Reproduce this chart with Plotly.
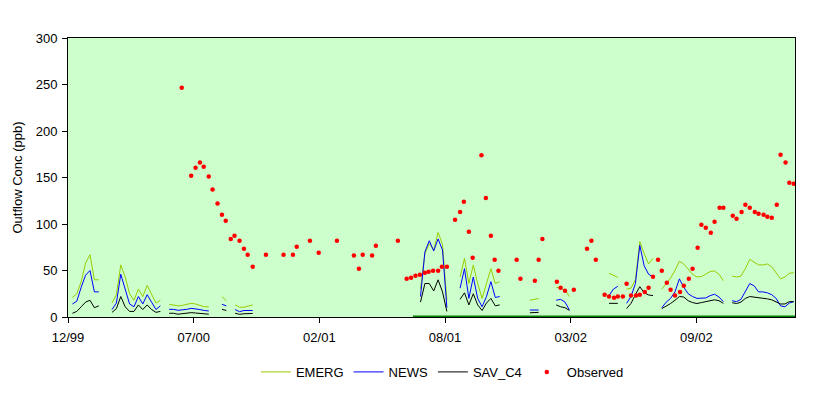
import pandas as pd
import plotly.graph_objects as go

# ---------------- data ----------------
start_date = "1999-12-30"
axis_end_day = 1157
tick_days = [0, 200, 400, 600, 800, 1000]

# model output days (days since start_date), one list per continuous segment
model_days = [
    [7, 14, 21, 28, 35, 42, 49],
    [70, 77, 84, 91, 98, 105, 112, 119, 126, 133, 140, 147],
    [161, 168, 175, 182, 189, 196, 203, 210, 217, 224],
    [245, 252],
    [266, 273, 280, 287, 294],
    [561, 568, 575, 582, 589, 596, 603],
    [624, 631, 638, 645, 652, 659, 666, 673, 680, 687],
    [735, 742, 749],
    [777, 784, 791, 798],
    [861, 868, 875],
    [889, 896, 903, 910, 917, 924, 931],
    [945, 952, 959, 966, 973, 980, 987, 994, 1001, 1008, 1015, 1022, 1029, 1036, 1043],
    [1057, 1064, 1071, 1078, 1085, 1092, 1099, 1106, 1113, 1120, 1127, 1134, 1141, 1148, 1155],
]
emerg = [
    [21, 25, 38, 58, 67, 40, 40],
    [15, 24, 56, 43, 25, 18, 30, 22, 34, 24, 15, 18],
    [13.6, 13, 12, 12.5, 13.5, 14.7, 14, 12.5, 11, 11],
    [22, 17.5],
    [13, 10.5, 10.5, 11.5, 13],
    [30, 68, 79, 72, 91, 78, 18],
    [43, 63, 36, 56, 36, 20, 36, 52, 36, 38],
    [18, 19, 20],
    [32, 31, 29, 22],
    [47, 45, 42.7],
    [30, 31, 40, 81, 68, 57, 63],
    [30, 36, 42, 50, 60, 57, 51, 46, 43, 43.5, 46, 49, 49.5, 46, 39],
    [44, 43, 44, 52, 62, 59, 56, 56, 57, 54, 48, 41, 43, 47, 47.6],
]
news = [
    [14, 17, 32, 45, 50, 27, 27],
    [8, 15, 46, 31, 14, 11, 22, 14, 24, 16, 8, 12],
    [8.2, 8.2, 7.2, 7.5, 8.2, 9.3, 9, 8, 7, 6.5],
    [13.6, 12],
    [8, 5.7, 7, 7, 7],
    [22, 70, 82, 71, 84, 72, 10],
    [31, 52, 20, 43, 20, 11, 22, 38, 21, 22],
    [7.5, 7.5, 7.5],
    [18, 19, 16, 7.5],
    [23, 30, 33],
    [14.7, 22, 36, 77, 55, 46, 43],
    [10, 16, 20, 27, 41, 32, 25, 22, 20, 20, 20.5, 23, 24.5, 21.5, 16.5],
    [17.5, 16.5, 19, 28, 36, 33.5, 27, 27, 26, 24, 20, 12, 11, 15, 16.5],
]
sav_c4 = [
    [4, 6, 11, 16, 18, 10, 12],
    [5, 9, 22, 11, 6, 6, 13, 8, 13, 8, 5, 6],
    [4, 4, 3, 3.5, 4, 4.7, 4.3, 3.8, 3, 3],
    [8.2, 7],
    [4, 2.9, 3.5, 3.8, 3.8],
    [16, 36, 36, 28, 40, 27, 6],
    [19, 26, 13, 25, 13, 7, 15, 20, 12, 13],
    [4.5, 5, 5],
    [13, 11, 10, 7],
    [14.7, 14.7, 14.7],
    [9, 14.7, 24, 32.6, 26, 23.7, 23],
    [9, 11.5, 14.5, 18, 22, 21.5, 17.5, 15.5, 14.5, 15.5, 16.5, 18, 18.5, 17.5, 14.7],
    [15.4, 14.5, 16, 20, 22, 21.5, 21, 20.5, 19.5, 18.5, 16, 14, 14, 16.5, 16.5],
]

obs_days = [181, 196, 203, 210, 216, 224, 230, 238, 245, 251, 259, 265, 273, 280, 286, 294,
            315, 343, 358, 364, 385, 399, 428, 455, 463, 469, 484, 490, 525,
            539, 546, 553, 560, 568, 574, 581, 589, 595, 603,
            616, 624, 630, 638, 644, 658, 665, 673, 679, 685, 714, 720,
            743, 749, 755, 778, 784, 791, 805, 826, 833, 840,
            854, 861, 869, 875, 883, 889, 896, 904, 910, 918, 924, 931, 939,
            945, 953, 959, 966, 974, 980, 988, 994, 1002, 1008, 1015, 1023, 1029, 1037, 1043,
            1058, 1064, 1072, 1078, 1085, 1093, 1099, 1107, 1113, 1120, 1128, 1134, 1142, 1148, 1155]
obs_vals = [246.6, 152, 160.5, 166, 161.6, 151, 137, 122, 110, 103.6, 84, 87.5, 82, 73.5, 67, 54,
            67, 67, 67, 75.6, 82, 69, 82, 66, 52, 67, 66, 76.7, 82,
            41.2, 42.3, 44.4, 45.5, 47.6, 48.7, 49.8, 49.8, 54, 54,
            104.6, 113, 124, 91.7, 63.8, 174, 128, 87.5, 61.6, 49.8, 61.6, 41.2,
            39, 61.6, 84, 38, 31.5, 28.3, 29.4, 73.5, 82, 61.6,
            24, 22, 20.8, 22, 22, 35.8, 23, 23, 24, 27, 31.5, 43.3, 61.6,
            49.8, 36.9, 29.4, 23, 27, 33.7, 41.2, 52, 74.5, 99.2, 96, 90.6, 102.5, 117.5, 117.5,
            109, 105.7, 113, 120.8, 117.5, 113, 111, 110, 107.8, 106.8, 120.8, 174.5, 166, 144.4, 143.3]

period_days = [549, 1157]
period_vals = [0, 0]

# ---------------- helpers ----------------
start = pd.Timestamp(start_date)


def to_dates(days):
    return [None if d is None else start + pd.Timedelta(days=d) for d in days]


def flat(segs):
    out = []
    for i, s in enumerate(segs):
        if i:
            out.append(None)
        out.extend(s)
    return out


mx = to_dates(flat(model_days))

font_family = "Liberation Sans, Arial, sans-serif"

fig = go.Figure()
fig.add_trace(go.Scatter(x=mx, y=flat(emerg), mode="lines", name="EMERG",
                         line=dict(color="#99CC00", width=1), connectgaps=False))
fig.add_trace(go.Scatter(x=mx, y=flat(news), mode="lines", name="NEWS",
                         line=dict(color="#0000FF", width=1), connectgaps=False))
fig.add_trace(go.Scatter(x=mx, y=flat(sav_c4), mode="lines", name="SAV_C4",
                         line=dict(color="#000000", width=1), connectgaps=False))
fig.add_trace(go.Scatter(x=to_dates(obs_days), y=obs_vals, mode="markers", name="Observed",
                         marker=dict(color="#FF0000", size=4.5, line=dict(width=0))))
fig.add_trace(go.Scatter(x=to_dates(period_days), y=period_vals, mode="lines",
                         line=dict(color="#008000", width=3), showlegend=False,
                         cliponaxis=False, hoverinfo="skip"))

fig.update_layout(
    width=828, height=395,
    margin=dict(l=60, r=41, t=30, b=86, autoexpand=False),
    paper_bgcolor="white",
    plot_bgcolor="#CCFFCC",
    font=dict(family=font_family, size=13, color="#000000"),
    showlegend=True,
    legend=dict(orientation="h", x=0.515, xanchor="center", y=-0.197, yanchor="middle",
                font=dict(size=13), itemwidth=30, bgcolor="rgba(0,0,0,0)"),
)
fig.update_xaxes(
    type="date",
    range=[start, start + pd.Timedelta(days=axis_end_day)],
    tickvals=to_dates(tick_days),
    tickformat="%m/%y",
    ticks="outside", ticklen=5, tickcolor="black",
    showline=True, linecolor="black", linewidth=1, mirror=True,
    showgrid=False, zeroline=False, layer="below traces",
    tickfont=dict(size=13), automargin=False, ticklabelstandoff=3,
)
fig.update_yaxes(
    range=[0, 300], dtick=50,
    ticks="outside", ticklen=5, tickcolor="black",
    showline=True, linecolor="black", linewidth=1, mirror=True,
    showgrid=False, zeroline=False, layer="below traces",
    title=dict(text="Outflow Conc (ppb)", font=dict(size=13), standoff=10),
    tickfont=dict(size=13), automargin=False, ticklabelstandoff=2,
)

fig.write_html("out.html")
